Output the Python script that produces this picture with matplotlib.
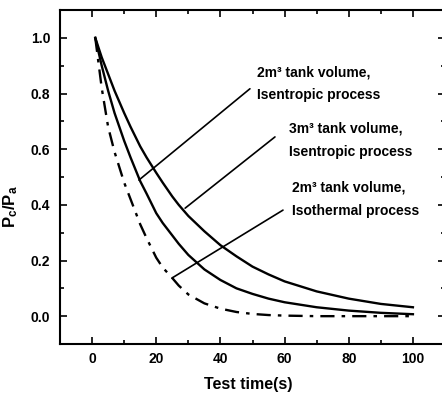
import matplotlib
matplotlib.use('Agg')
from matplotlib import pyplot as plt

plt.rcParams['font.family'] = ['Liberation Sans Narrow', 'Liberation Sans', 'DejaVu Sans']
plt.rcParams['font.weight'] = 'bold'
plt.rcParams['axes.labelweight'] = 'bold'
plt.rcParams['mathtext.default'] = 'regular'

# values
time_s = [1, 3, 5, 7, 10, 12, 15, 17, 20, 22, 25, 27, 30, 35, 40, 45, 50,
          55, 60, 70, 80, 90, 100]
tank3_isentropic = [1.0, 0.93, 0.87, 0.81, 0.73, 0.68, 0.61, 0.57, 0.515,
                    0.48, 0.43, 0.40, 0.36, 0.305, 0.255, 0.215, 0.178,
                    0.15, 0.125, 0.089, 0.063, 0.044, 0.032]
tank2_isentropic = [1.0, 0.90, 0.81, 0.73, 0.63, 0.57, 0.485, 0.44, 0.37,
                    0.335, 0.29, 0.26, 0.22, 0.168, 0.13, 0.10, 0.08,
                    0.063, 0.05, 0.032, 0.02, 0.012, 0.007]
tank2_isothermal = [1.0, 0.82, 0.68, 0.59, 0.48, 0.42, 0.33, 0.28, 0.21,
                    0.175, 0.137, 0.11, 0.078, 0.046, 0.027, 0.015, 0.008,
                    0.004, 0.002, 0.0, 0.0, 0.0, 0.0]

labels = ['2m³ tank volume,\nIsentropic process',
          '3m³ tank volume,\nIsentropic process',
          '2m³ tank volume,\nIsothermal process']
label_xy = [(51.4, 0.835), (61.4, 0.633), (62.3, 0.421)]
leader_start = [(49.2, 0.817), (57.0, 0.644), (59.5, 0.381)]
leader_end = [(14.6, 0.489), (29.0, 0.388), (24.9, 0.137)]

fig = plt.figure(figsize=(4.42, 3.94), dpi=100)
ax = fig.add_axes([60 / 442, 50 / 394, 385 / 442, 334 / 394])

ax.plot(time_s, tank3_isentropic, color='black', lw=1.7)
ax.plot(time_s, tank2_isentropic, color='black', lw=1.7)
ax.plot(time_s, tank2_isothermal, color='black', lw=1.7,
        linestyle=(0, (6, 3, 1.5, 3)))

for txt, pos, s, e in zip(labels, label_xy, leader_start, leader_end):
    ax.text(pos[0], pos[1], txt, ha='left', va='center', fontsize=10,
            linespacing=1.85)
    ax.annotate('', xy=e, xytext=s,
                arrowprops=dict(arrowstyle='-', lw=1.2, color='black',
                                shrinkA=0, shrinkB=0))

ax.set_xlim(-10, 110)
ax.set_ylim(-0.1, 1.1)
ax.set_xticks([0, 20, 40, 60, 80, 100])
ax.set_xticks(range(-10, 111, 10), minor=True)
ax.set_yticks([0.0, 0.2, 0.4, 0.6, 0.8, 1.0])
ax.set_yticks([-0.1, 0.1, 0.3, 0.5, 0.7, 0.9, 1.1], minor=True)
ax.tick_params(which='both', direction='in', top=True, right=True,
               labelsize=10, width=1.2)
ax.tick_params(which='major', length=5)
ax.tick_params(which='minor', length=3)
ax.tick_params(axis='x', pad=6)
ax.tick_params(axis='y', pad=7)
for sp in ax.spines.values():
    sp.set_linewidth(1.5)

ax.set_xlabel('Test time(s)', fontsize=11.5, fontweight='bold')
ax.set_ylabel(r'P$_c$/P$_a$', fontsize=12, fontweight='bold')
ax.yaxis.set_label_coords(-0.105, 0.41)
ax.xaxis.set_label_coords(0.49, -0.1)

fig.savefig('out.png', dpi=100)
